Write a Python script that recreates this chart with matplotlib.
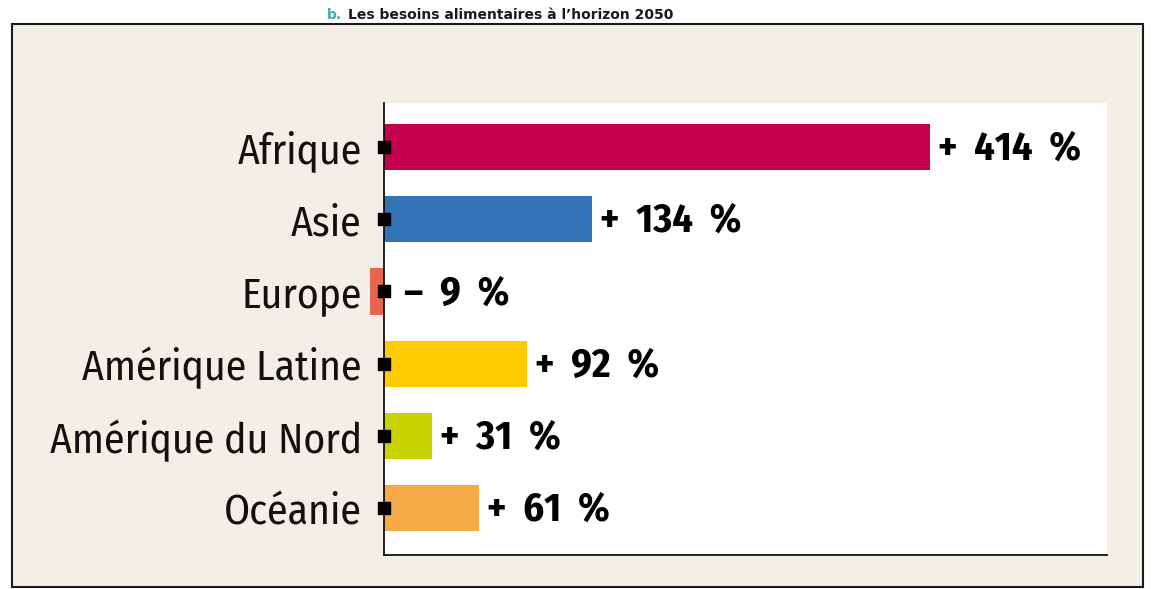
import matplotlib
matplotlib.use("Agg")
import matplotlib.pyplot as plt
from matplotlib import font_manager
from matplotlib.patches import Rectangle

categories = ["Afrique", "Asie", "Europe", "Amérique Latine", "Amérique du Nord", "Océanie"]
values = [414, 134, -9, 92, 31, 61]          # printed percentages
# bar lengths as drawn in the picture (the Afrique bar is truncated in the original)
bar_lengths = [352, 134, -9, 92, 31, 61]
value_labels = ["+ 414 %", "+ 134 %", "– 9 %", "+ 92 %", "+ 31 %", "+ 61 %"]
colors = ["#c3004c", "#3274b6", "#e8664f", "#ffcc00", "#c9d300", "#f4aa45"]
title_prefix = "b."
title_text = "Les besoins alimentaires à l’horizon 2050"

names = {f.name for f in font_manager.fontManager.ttflist}


def pick(prefs):
    for p in prefs:
        if p in names:
            return p
    return "DejaVu Sans"


cat_font = pick(["Fira Sans Condensed", "Roboto Condensed", "IBM Plex Sans Condensed"])
val_font = pick(["Fira Sans Condensed", "Roboto Condensed", "IBM Plex Sans Condensed"])

W, H = 1152, 589
fig = plt.figure(figsize=(W / 100, H / 100), dpi=100)
fig.patch.set_facecolor("white")

# outer beige frame
frame = Rectangle((12 / W, 1 - 587 / H), (1143 - 12) / W, (587 - 24) / H,
                  transform=fig.transFigure, facecolor="#f3efe7", edgecolor="#1a1a1a",
                  linewidth=1.5, zorder=0)
fig.patches.append(frame)

# title
fig.text(327 / W, 1 - 15 / H, title_prefix, color="#3fa9b5", fontsize=10,
         fontweight="bold", ha="left", va="center", family="DejaVu Sans")
fig.text(348 / W, 1 - 15 / H, title_text, color="#1a1a1a", fontsize=10,
         fontweight="bold", ha="left", va="center", family="DejaVu Sans")

ax = fig.add_axes([384 / W, 1 - 555 / H, (1107 - 384) / W, (555 - 103) / H])
ax.set_facecolor("white")
ax.set_zorder(1)

y = list(range(len(categories)))
ax.barh(y, bar_lengths, height=0.64, color=colors, clip_on=False, zorder=2)
ax.set_xlim(0, 466)
ax.set_ylim(5.65, -0.61)

for s in ["top", "right"]:
    ax.spines[s].set_visible(False)
for s in ["left", "bottom"]:
    ax.spines[s].set_color("#111111")
    ax.spines[s].set_linewidth(1.3)
    ax.spines[s].set_zorder(3)

ax.set_xticks([])
ax.set_yticks(y)
ax.set_yticklabels(categories, fontsize=30, family=cat_font, color="#111111")
ax.tick_params(axis="y", length=0, pad=16)

# square tick markers
ax.plot([0] * len(y), y, linestyle="none", marker="s", markersize=8.5,
        color="black", clip_on=False, zorder=4)

for yi, b, lab in zip(y, bar_lengths, value_labels):
    x0 = max(b, 0)
    offset = 8 if b > 0 else 20
    ax.annotate(lab.replace(" ", "  "), (x0, yi), xytext=(offset, -2),
                textcoords="offset pixels", ha="left", va="center", fontsize=29,
                fontweight="bold", family=val_font, color="black", zorder=5)

fig.savefig("out.png", dpi=100, facecolor=fig.get_facecolor())
